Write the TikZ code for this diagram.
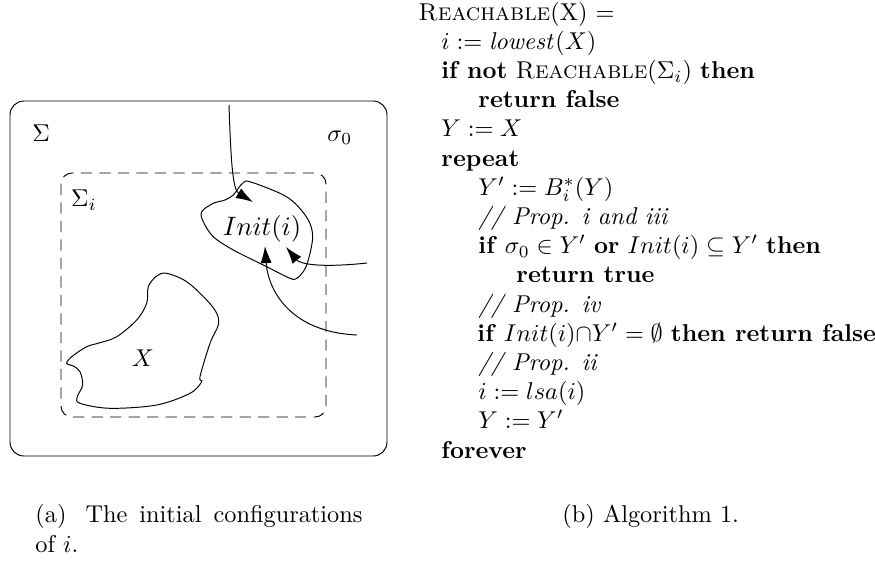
\documentclass[tikz,border=0pt]{standalone}
\usetikzlibrary{arrows.meta}
\begin{document}
\begin{tikzpicture}[x=0.411pt,y=-0.411pt,
  algo/.style={anchor=base west, inner sep=0pt},
  lbl/.style={inner sep=0pt},
  arr/.style={-{Latex[length=7pt,width=4.6pt]}},
  outerbox/.style={rounded corners=5.7pt},
  innerbox/.style={dash pattern=on 4.6pt off 3pt, rounded corners=4.5pt},
  blob/.style={smooth cycle, tension=0.55}]
\useasboundingbox (0,0) rectangle (875,561);

% ---- left figure ----
\draw[outerbox] (10,101) rectangle (387,456);
\draw[innerbox] (61,173) rectangle (326,417);

\node[lbl, anchor=base west] (sigma) at (32,141) {$\Sigma$};
\node[lbl, anchor=base west] (sigma0) at (327,141) {$\sigma_0$};
\node[lbl] (sigmai) at (84,200) {$\Sigma_i$};
\node[lbl, font=\fontsize{11}{13}\selectfont] (init) at (262,229) {$Init(i)$};
\node[lbl] (X) at (143,358) {$X$};

% Init(i) region
\draw plot[blob] coordinates {
  (201.7,211.7) (213.3,203.3) (225,200) (233.3,195) (238.3,188.3)
  (243.3,182.7) (250,181.7) (280,193.3) (295,203.3) (308.3,220)
  (312.7,236.7) (308.3,260) (303.3,271.7) (296.7,278.3) (290,278.3)
  (263.3,265) (233.3,250) (213.3,236.7) (203.3,221.7)};

% X region
\draw plot[blob] coordinates {
  (66.7,363.3) (71.7,356.7) (86.7,346.7) (100,342.7) (116.7,336.7)
  (136.7,320) (146.7,303.3) (148.3,286.7) (156.7,276) (166.7,273.3)
  (186.7,281.7) (206.7,300) (216.7,313.3) (218.3,325) (210,343.3)
  (200,376.7) (201.7,381.7) (190,393.3) (156.7,405) (110,408.3)
  (80,403.3) (77.3,396.7) (82.7,385) (80,371.7) (73.3,366)};

% arrows into Init(i)
\coordinate (s1) at (229,105);
\coordinate (t1) at (253,202);
\coordinate (s2) at (367,263);
\coordinate (t2) at (286,247);
\coordinate (s3) at (357,335);
\coordinate (t3) at (265,246);
\draw[arr] (s1) .. controls (231,165) and (233,190) .. (t1);
\draw[arr] (s2) .. controls (320,268) and (300,264) .. (t2);
\draw[arr] (s3) .. controls (290,332) and (268,290) .. (t3);

% ---- algorithm ----
\node[algo] (l0) at (418,20) {\textsc{Reachable}(X) $=$};
\node[algo] (l1) at (441,49.2) {$i := \mathit{lowest}(X)$};
\node[algo] (l2) at (441,78.4) {\textbf{if not} \textsc{Reachable}($\Sigma_i$) \textbf{then}};
\node[algo] (l3) at (478,107.6) {\textbf{return false}};
\node[algo] (l4) at (441,136.8) {$Y := X$};
\node[algo] (l5) at (441,166) {\textbf{repeat}};
\node[algo] (l6) at (478,195.2) {$Y' := B^*_i(Y)$};
\node[algo] (l7) at (478,224.4) {\textit{// Prop. i and iii}};
\node[algo] (l8) at (478,253.6) {\textbf{if} $\sigma_0 \in Y'$ \textbf{or} $Init(i) \subseteq Y'$ \textbf{then}};
\node[algo] (l9) at (516,282.8) {\textbf{return true}};
\node[algo] (l10) at (478,312) {\textit{// Prop. iv}};
\node[algo] (l11) at (477,341.2) {\textbf{if} $Init(i){\cap}Y' = \emptyset$ \textbf{then return false}};
\node[algo] (l12) at (478,370.4) {\textit{// Prop. ii}};
\node[algo] (l13) at (478,399.6) {$i := lsa(i)$};
\node[algo] (l14) at (478,428.8) {$Y := Y'$};
\node[algo] (l15) at (441,458) {\textbf{forever}};

% ---- captions ----
\node[algo] (capa) at (35,522) {\makebox[134.4pt][s]{(a)\hspace{7.8pt}The initial configurations}};
\node[algo] (capa2) at (35,552) {of $i$.};
\node[algo] (capb) at (562,522) {(b) Algorithm 1.};
\end{tikzpicture}
\end{document}
